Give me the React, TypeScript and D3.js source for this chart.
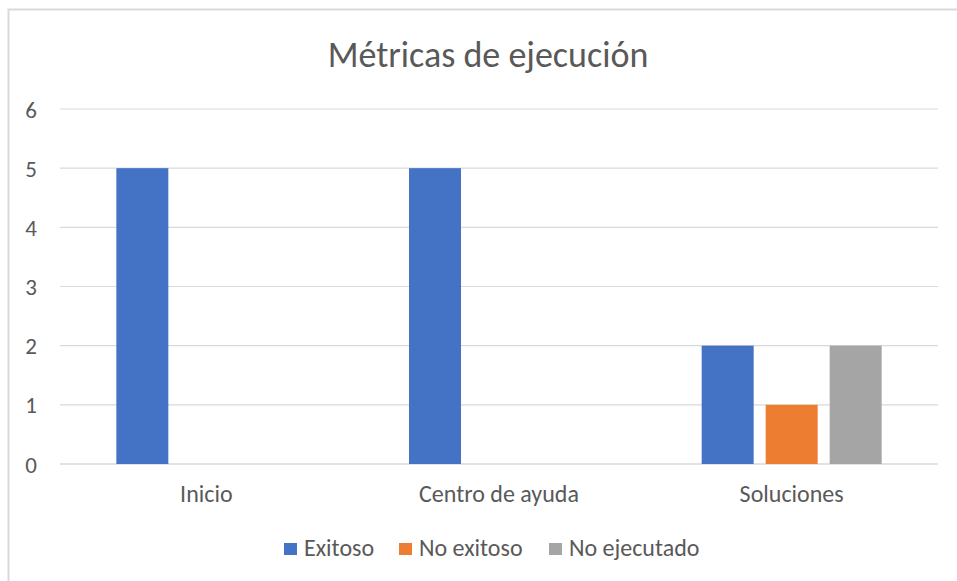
import React from 'react';
import * as d3 from 'd3';

const categories = ['Inicio', 'Centro de ayuda', 'Soluciones'];
const seriesNames = ['Exitoso', 'No exitoso', 'No ejecutado'];
const exitoso = [5, 5, 2];
const noExitoso = [0, 0, 1];
const noEjecutado = [0, 0, 2];
const yTicks = [0, 1, 2, 3, 4, 5, 6];
const colors = ['#4472C4', '#ED7D31', '#A5A5A5'];

const W = 957;
const H = 581;
const margin = { top: 109, right: 19, bottom: 117, left: 60 };
const font = "Carlito, Lato, sans-serif";
const textColor = '#595959';

export default function App() {
    const values = [exitoso, noExitoso, noEjecutado];

    const x = d3.scaleBand<string>()
        .domain(categories)
        .range([margin.left, W - margin.right])
        .paddingInner(0.385)
        .paddingOuter(0.1925);

    const xs = d3.scaleBand<string>()
        .domain(seriesNames)
        .range([0, x.bandwidth()])
        .paddingInner(0.1875)
        .paddingOuter(0);

    const y = d3.scaleLinear()
        .domain([0, 6])
        .range([H - margin.bottom, margin.top]);

    // legend swatch positions
    const legendX = [284, 399, 549];

    return (
        <svg width={W} height={H} style={{ position: 'absolute', left: 0, top: 0 }}>
            <rect x={0} y={0} width={W} height={H} fill="#fff" />
            <rect x={8.5} y={9.5} width={W + 10} height={H + 10} fill="#fff" stroke="#d9d9d9" strokeWidth={2} />

            <text x={488} y={67} textAnchor="middle" fontFamily={font} fontSize={36} fill={textColor}>
                Métricas de ejecución
            </text>

            <g>
                {yTicks.map(t => (
                    <g key={t}>
                        <line x1={margin.left} x2={W - margin.right} y1={y(t)} y2={y(t)}
                            stroke="#d9d9d9" strokeWidth={t === 0 ? 1.5 : 1.2} />
                        <text x={31} y={y(t) + 8.5} textAnchor="middle" fontFamily={font} fontSize={23} fill={textColor}>{t}</text>
                    </g>
                ))}
            </g>

            <g>
                {categories.map((c, ci) => (
                    <g key={c} transform={`translate(${x(c)},0)`}>
                        {seriesNames.map((s, si) => {
                            const v = values[si][ci];
                            if (!v) return null;
                            return (
                                <rect key={s} x={xs(s)} y={y(v)} width={xs.bandwidth()} height={y(0) - y(v)} fill={colors[si]} />
                            );
                        })}
                        <text x={x.bandwidth() / 2} y={502} textAnchor="middle" fontFamily={font} fontSize={24} fill={textColor}>{c}</text>
                    </g>
                ))}
            </g>

            <g>
                {seriesNames.map((name, i) => (
                    <g key={name}>
                        <rect x={legendX[i]} y={543} width={13} height={12} fill={colors[i]} />
                        <text x={legendX[i] + 20} y={556} fontFamily={font} fontSize={24} fill={textColor}>{name}</text>
                    </g>
                ))}
            </g>
        </svg>
    );
}
